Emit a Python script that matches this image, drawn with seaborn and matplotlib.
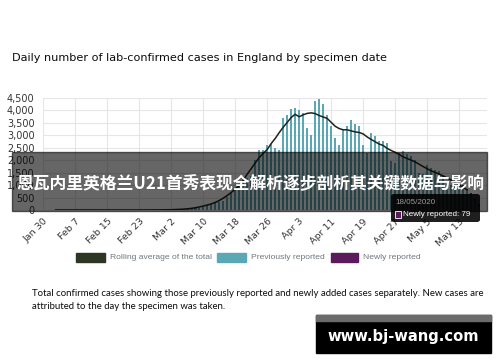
import numpy as np
import pandas as pd
import matplotlib
matplotlib.use("Agg")
import matplotlib.pyplot as plt
import seaborn as sns
from matplotlib.patches import Rectangle, FancyBboxPatch

# ---- data ----
start_date = "2020-01-30"
previously_reported = [
    2, 0, 0, 0, 0, 0, 0, 0, 0, 1, 1, 2, 0, 0, 0, 0, 0, 0, 0, 0, 0, 0, 0, 0, 1, 1, 2, 2, 3, 3, 4,
    5, 10, 15, 20, 30, 45, 50, 70, 100, 140,
    190, 250, 310, 330, 380, 520, 680, 850, 1000, 1150,
    1300, 1350, 2000, 2400, 2400, 2600, 2650, 2500, 2400, 3700,
    3800, 4050, 4100, 4000, 3900, 3300, 3000, 4350, 4450, 4250,
    3800, 3350, 2900, 2600, 3250, 3350, 3600, 3450, 3350, 2600,
    2300, 3100, 2950, 2750, 2750, 2700, 1950, 1900, 2300, 2350,
    2250, 2150, 2000, 1500, 1450, 1800, 1700, 1600, 1550, 1400,
    1050, 1000, 1250, 1150, 980, 815, 650, 390, 171,
]
newly_dates = ["2020-05-14", "2020-05-15", "2020-05-16", "2020-05-17", "2020-05-18"]
newly_reported = [20, 35, 50, 60, 79]
tick_labels = ["Jan 30", "Feb 7", "Feb 15", "Feb 23", "Mar 2", "Mar 10", "Mar 18",
               "Mar 26", "Apr 3", "Apr 11", "Apr 19", "Apr 27", "May 5", "May 13"]
yticks = [0, 500, 1000, 1500, 2000, 2500, 3000, 3500, 4000, 4500]

title = "Daily number of lab-confirmed cases in England by specimen date"
legend_labels = ["Rolling average of the total", "Previously reported", "Newly reported"]
caption = ["Total confirmed cases showing those previously reported and newly added cases separately. New cases are",
           "attributed to the day the specimen was taken."]
banner = "恩瓦内里英格兰U21首秀表现全解析逐步剖析其关键数据与影响"
tooltip_date = "18/05/2020"
tooltip_text = "Newly reported: 79"
watermark = "www.bj-wang.com"

# ---- build table ----
dates = pd.date_range(start_date, periods=len(previously_reported), freq="D")
df = pd.DataFrame({"date": dates, "previous": previously_reported})
df["day"] = (df["date"] - df["date"].iloc[0]).dt.days
new_s = pd.Series(newly_reported, index=pd.to_datetime(newly_dates))
df["new"] = df["date"].map(new_s).fillna(0)
df["total"] = df["previous"] + df["new"]
df["rolling"] = df["total"].rolling(7, center=True).mean()

TEAL = "#5aa7b5"
PURPLE = "#5a1a5c"
DARK = "#1f2419"
LEG_DARK = "#2d3622"

W, H = 500, 362
sns.set_theme(style="white")
plt.rcParams["font.family"] = ["DejaVu Sans"]

fig = plt.figure(figsize=(W / 100, H / 100), dpi=100)
fig.patch.set_facecolor("white")

def fx(x):
    return x / W

def fy(y):
    return 1 - y / H

ax = fig.add_axes([fx(43), fy(210), (487 - 43) / W, (210 - 97.7) / H])
ax.set_facecolor("white")

sns.barplot(data=df, x="day", y="total", native_scale=True, color=PURPLE,
            saturation=1, width=0.62, errorbar=None, ax=ax, zorder=2, linewidth=0)
sns.barplot(data=df, x="day", y="previous", native_scale=True, color=TEAL,
            saturation=1, width=0.62, errorbar=None, ax=ax, zorder=3, linewidth=0)
sns.lineplot(data=df, x="day", y="rolling", color=DARK, linewidth=1.1, ax=ax, zorder=4)

ax.set_xlim(-0.1, 111)
ax.set_ylim(0, 4500)
ax.set_xticks(np.arange(0, 8 * len(tick_labels), 8))
ax.set_xticklabels(tick_labels, rotation=45, ha="right", rotation_mode="anchor",
                   fontsize=6.8, color="#333333")
ax.set_yticks(yticks)
ax.set_yticklabels([f"{v:,}" for v in yticks], fontsize=6.9, color="#333333")
ax.tick_params(axis="both", length=0)
ax.tick_params(axis="x", pad=5)
ax.tick_params(axis="y", pad=6)
ax.grid(True, color="#e6e6e6", linewidth=0.8, zorder=0)
ax.set_axisbelow(True)
for s in ax.spines.values():
    s.set_visible(False)
ax.set_xlabel("")
ax.set_ylabel("")

# title
fig.text(fx(12), fy(58), title, fontsize=8.1, color="#0b0c0c", va="center", ha="left")

# legend
leg_items = [(76, 105, LEG_DARK, 110), (217, 246, TEAL, 251), (331, 358, PURPLE, 363)]
for (x0, x1, col, tx), lab in zip(leg_items, legend_labels):
    fig.patches.append(Rectangle((fx(x0), fy(262)), (x1 - x0) / W, 9 / H,
                                 transform=fig.transFigure, color=col))
    fig.text(fx(tx), fy(257.5), lab, fontsize=6.1, color="#6f777b", va="center", ha="left",
             family=["Liberation Sans", "DejaVu Sans"])

# caption
for i, line in enumerate(caption):
    fig.text(fx(32), fy(294 + 12.5 * i), line, fontsize=6.9, color="#0b0c0c",
             va="center", ha="left", family=["Lato", "DejaVu Sans"])

# banner overlay
fig.patches.append(Rectangle((fx(12), fy(211)), (487 - 12) / W, (211 - 152) / H,
                             transform=fig.transFigure, color="black", alpha=0.6, zorder=10))
fig.text(fx(251), fy(184), banner, fontsize=12.1, color="white", fontweight="bold",
         va="center", ha="center", family=["Noto Sans CJK SC", "DejaVu Sans"], zorder=11)

# tooltip
fig.patches.append(FancyBboxPatch((fx(391), fy(222)), (480 - 391) / W, (222 - 194) / H,
                                  boxstyle="round,pad=0,rounding_size=0.006",
                                  transform=fig.transFigure, facecolor="black",
                                  edgecolor="none", alpha=0.88, zorder=12))
fig.text(fx(395), fy(202), tooltip_date, fontsize=5.8, color="#9a9a9a",
         va="center", ha="left", zorder=13, family=["Liberation Sans", "DejaVu Sans"])
fig.patches.append(Rectangle((fx(395), fy(217.5)), 6 / W, 7 / H, transform=fig.transFigure,
                             facecolor=PURPLE, edgecolor="white", linewidth=0.6, zorder=13))
fig.text(fx(403), fy(214), tooltip_text, fontsize=5.8, color="white",
         va="center", ha="left", zorder=13, family=["Liberation Sans", "DejaVu Sans"])

# watermark
fig.patches.append(Rectangle((fx(316), fy(353)), (491 - 316) / W, (353 - 315) / H,
                             transform=fig.transFigure, color="black", zorder=10))
fig.patches.append(Rectangle((fx(316), fy(321)), (491 - 316) / W, 6 / H,
                             transform=fig.transFigure, color="#6b6b6b", zorder=11))
fig.text(fx(403), fy(337), watermark, fontsize=10.6, color="white", fontweight="bold",
         va="center", ha="center", zorder=12)

fig.savefig("out.png", dpi=100)
